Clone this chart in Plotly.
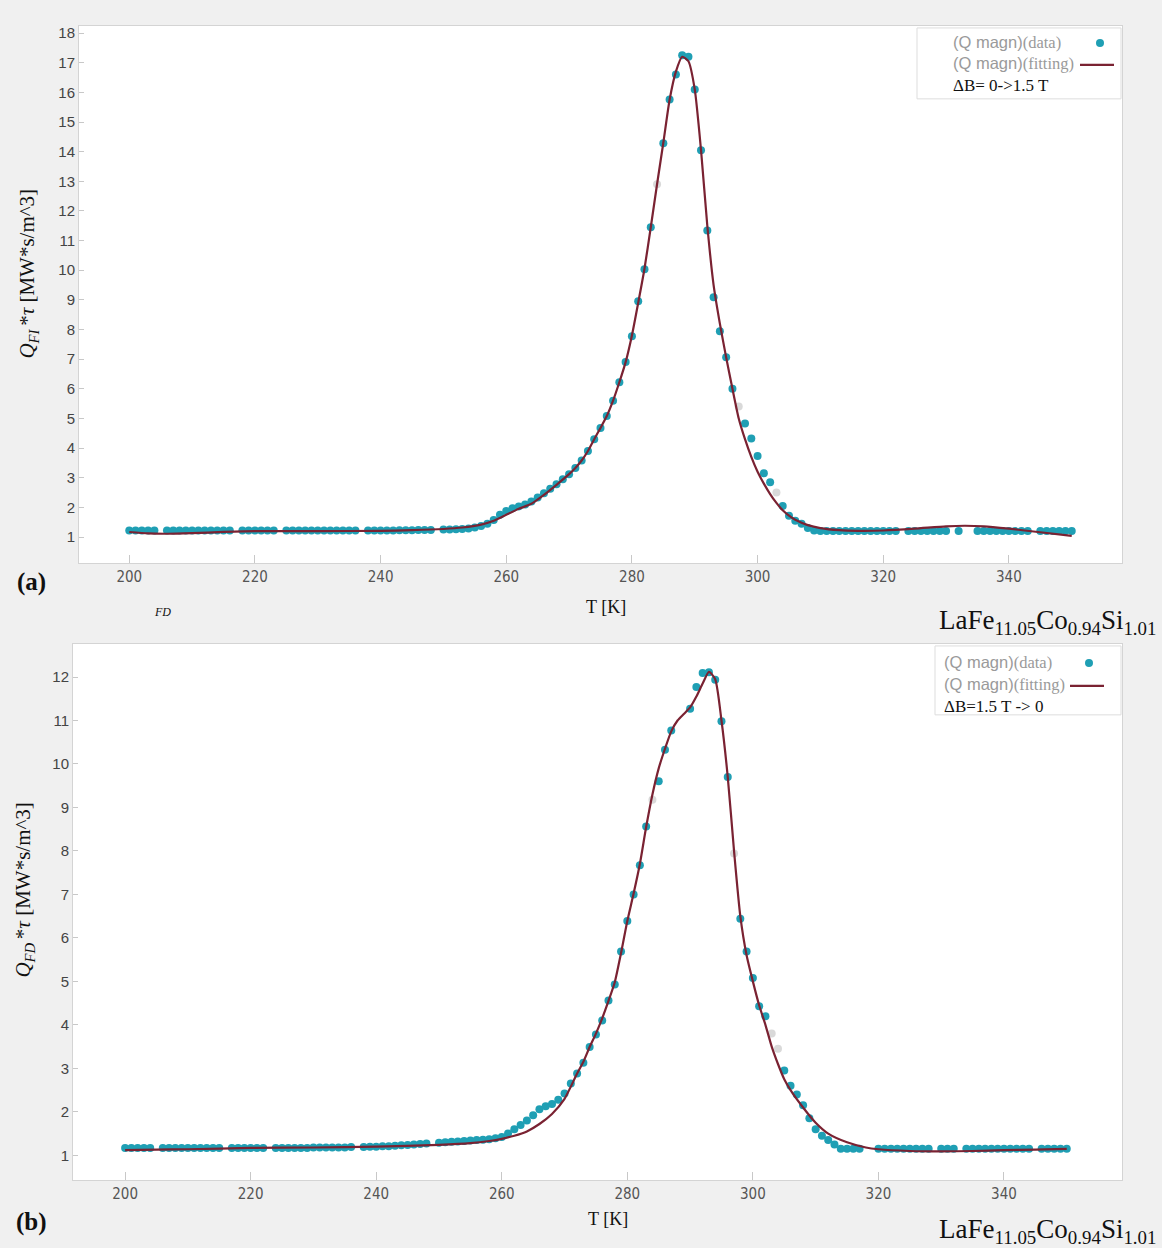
import plotly.graph_objects as go

W, H = 1162, 1248

# ---------------- panel (a): field increase 0 -> 1.5 T ----------------
t_a = [200, 201, 202, 203, 204, 206, 207, 208, 209, 210, 211, 212, 213, 214, 215, 216,
       218, 219, 220, 221, 222, 223, 225, 226, 227, 228, 229, 230, 231, 232, 233, 234,
       235, 236, 238, 239, 240, 241, 242, 243, 244, 245, 246, 247, 248, 250, 251, 252,
       253, 254, 255, 256, 257, 258, 259, 260, 261, 262, 263, 264, 265, 266, 267, 268,
       269, 270, 271, 272, 273, 274, 275, 276, 277, 278, 279, 280, 281, 282, 283, 285,
       286, 287, 288, 289, 290, 291, 292, 293, 294, 295, 296, 298, 299, 300, 301, 302,
       304, 305, 306, 307, 308, 309, 310, 311, 312, 313, 314, 315, 316, 317, 318, 319,
       320, 321, 322, 324, 325, 326, 327, 328, 329, 330, 332, 335, 336, 337, 338, 339,
       340, 341, 342, 343, 345, 346, 347, 348, 349, 350]
q_a = [1.22, 1.22, 1.22, 1.22, 1.22, 1.22, 1.22, 1.22, 1.22, 1.22, 1.22, 1.22, 1.22, 1.22, 1.22, 1.22,
       1.22, 1.22, 1.22, 1.22, 1.22, 1.22, 1.22, 1.22, 1.22, 1.22, 1.22, 1.22, 1.22, 1.22, 1.22, 1.22,
       1.22, 1.22, 1.22, 1.22, 1.22, 1.22, 1.22, 1.23, 1.23, 1.23, 1.24, 1.24, 1.24, 1.25, 1.25, 1.26,
       1.27, 1.29, 1.32, 1.37, 1.45, 1.57, 1.75, 1.88, 1.97, 2.03, 2.1, 2.2, 2.33, 2.48, 2.63, 2.78,
       2.95, 3.12, 3.33, 3.58, 3.9, 4.3, 4.68, 5.08, 5.6, 6.22, 6.9, 7.77, 8.95, 10.03, 11.45, 14.28,
       15.76, 16.6, 17.25, 17.2, 16.1, 14.05, 11.34, 9.09, 7.94, 7.06, 6.0, 4.83, 4.32, 3.73, 3.15, 2.85,
       2.05, 1.72, 1.55, 1.45, 1.3, 1.22, 1.2, 1.2, 1.2, 1.2, 1.2, 1.2, 1.2, 1.2, 1.2, 1.2,
       1.2, 1.2, 1.2, 1.2, 1.2, 1.2, 1.2, 1.2, 1.2, 1.2, 1.2, 1.2, 1.2, 1.2, 1.2, 1.2,
       1.2, 1.2, 1.2, 1.2, 1.2, 1.2, 1.2, 1.2, 1.2, 1.2]
faint_t_a = [284, 297, 303]
faint_q_a = [12.9, 5.4, 2.5]

fit_t_a = [200, 203, 206, 210, 215, 220, 230, 240, 245, 250, 253, 256, 258, 260, 262, 264,
           266, 268, 270, 271, 272, 273, 274, 275, 276, 277, 278, 279, 280, 281, 282, 283,
           284, 285, 286, 287, 288, 289, 290, 291, 292, 293, 294, 295, 296, 297, 298, 299,
           300, 301, 302, 303, 304, 305, 306, 308, 310, 313, 316, 320, 325, 330, 333, 336,
           340, 345, 350]
fit_q_a = [1.17, 1.12, 1.11, 1.13, 1.17, 1.2, 1.2, 1.21, 1.23, 1.27, 1.32, 1.42, 1.55, 1.75, 1.95, 2.12,
           2.42, 2.76, 3.12, 3.33, 3.58, 3.9, 4.3, 4.68, 5.08, 5.6, 6.22, 6.9, 7.8, 8.9, 10.05, 11.45,
           12.9, 14.3, 15.75, 16.7, 17.2, 17.05, 16.1, 14.05, 11.5, 9.5, 8.2, 7.06, 6.0, 5.0, 4.3, 3.7,
           3.2, 2.8, 2.45, 2.15, 1.9, 1.72, 1.58, 1.4, 1.3, 1.23, 1.21, 1.22, 1.28, 1.36, 1.38, 1.36,
           1.28, 1.16, 1.04]

# ---------------- panel (b): field decrease 1.5 T -> 0 ----------------
t_b = [200, 201, 202, 203, 204, 206, 207, 208, 209, 210, 211, 212, 213, 214, 215,
       217, 218, 219, 220, 221, 222, 224, 225, 226, 227, 228, 229, 230, 231, 232, 233, 234,
       235, 236, 238, 239, 240, 241, 242, 243, 244, 245, 246, 247, 248, 250, 251, 252,
       253, 254, 255, 256, 257, 258, 259, 260, 261, 262, 263, 264, 265, 266, 267, 268,
       269, 270, 271, 272, 273, 274, 275, 276, 277, 278, 279, 280, 281, 282, 283, 285,
       286, 287, 290, 291, 292, 293, 294, 295, 296, 298, 299, 300, 301, 302, 305, 306,
       307, 308, 309, 310, 311, 312, 313, 314, 315, 316, 317, 320, 321, 322, 323, 324,
       325, 326, 327, 328, 330, 331, 332, 334, 335, 336, 337, 338, 339, 340, 341, 342,
       343, 344, 346, 347, 348, 349, 350]
q_b = [1.17, 1.17, 1.17, 1.17, 1.17, 1.17, 1.17, 1.17, 1.17, 1.17, 1.17, 1.17, 1.17, 1.17, 1.17,
       1.17, 1.17, 1.17, 1.17, 1.17, 1.17, 1.17, 1.17, 1.17, 1.17, 1.17, 1.17, 1.18, 1.18, 1.18, 1.18, 1.18,
       1.18, 1.19, 1.19, 1.2, 1.2, 1.21, 1.21, 1.22, 1.23, 1.24, 1.25, 1.26, 1.27, 1.29, 1.3, 1.31,
       1.32, 1.33, 1.34, 1.35, 1.36, 1.37, 1.39, 1.42, 1.5, 1.6, 1.7, 1.8, 1.92, 2.06, 2.13, 2.18,
       2.28, 2.42, 2.65, 2.88, 3.13, 3.49, 3.78, 4.1, 4.56, 4.93, 5.69, 6.39, 7.0, 7.67, 8.56, 9.6,
       10.33, 10.77, 11.27, 11.77, 12.09, 12.11, 11.94, 10.98, 9.7, 6.44, 5.69, 5.08, 4.43, 4.2, 2.95, 2.6,
       2.4, 2.15, 1.85, 1.6, 1.45, 1.35, 1.25, 1.15, 1.15, 1.15, 1.15, 1.15, 1.15, 1.15, 1.15, 1.15,
       1.15, 1.15, 1.15, 1.15, 1.15, 1.15, 1.15, 1.15, 1.15, 1.15, 1.15, 1.15, 1.15, 1.15, 1.15, 1.15,
       1.15, 1.15, 1.15, 1.15, 1.15, 1.15, 1.15]
faint_t_b = [284, 297, 303, 304]
faint_q_b = [9.18, 7.94, 3.8, 3.45]

fit_t_b = [200, 205, 210, 220, 230, 240, 250, 255, 258, 260, 262, 264, 266, 268, 270, 271,
           272, 273, 274, 275, 276, 277, 278, 279, 280, 281, 282, 283, 284, 285, 286, 287,
           288, 289, 290, 291, 292, 293, 294, 295, 296, 297, 298, 299, 300, 301, 302, 303,
           304, 305, 306, 308, 310, 312, 315, 318, 320, 325, 330, 335, 340, 345, 350]
fit_q_b = [1.12, 1.13, 1.14, 1.17, 1.18, 1.2, 1.24, 1.28, 1.33, 1.38, 1.45, 1.55, 1.72, 1.95, 2.3, 2.58,
           2.88, 3.15, 3.49, 3.8, 4.15, 4.55, 4.98, 5.65, 6.39, 7.02, 7.7, 8.55, 9.3, 9.9, 10.35, 10.75,
           11.0, 11.15, 11.3, 11.55, 11.85, 12.12, 11.95, 11.0, 9.7, 8.0, 6.5, 5.6, 5.0, 4.45, 4.0, 3.5,
           3.1, 2.75, 2.5, 2.1, 1.75, 1.5, 1.3, 1.18, 1.14, 1.1, 1.09, 1.1, 1.12, 1.13, 1.15]

x_ticks = [200, 220, 240, 260, 280, 300, 320, 340]
y_ticks_a = list(range(1, 19))
y_ticks_b = list(range(1, 13))

TEAL = "#1f9fb4"
FAINT = "#d9d9d9"
MAROON = "#7a2232"
SERIF = "Liberation Serif, Times New Roman, serif"
SANS = "Liberation Sans, Arial, sans-serif"
NARROW = "Liberation Sans Narrow, DejaVu Sans Condensed, Arial Narrow, sans-serif"


def px(x):
    return x / W


def py(y):
    return 1 - y / H


fig = go.Figure()

for xa, ya, t, q, ft, fq, tt, qq in [
    ("x", "y", t_a, q_a, faint_t_a, faint_q_a, fit_t_a, fit_q_a),
    ("x2", "y2", t_b, q_b, faint_t_b, faint_q_b, fit_t_b, fit_q_b),
]:
    fig.add_trace(go.Scatter(x=ft, y=fq, mode="markers", xaxis=xa, yaxis=ya,
                             marker=dict(size=8, color=FAINT), showlegend=False,
                             hoverinfo="skip"))
    fig.add_trace(go.Scatter(x=t, y=q, mode="markers", xaxis=xa, yaxis=ya,
                             marker=dict(size=8, color=TEAL), name="(Q magn)(data)",
                             showlegend=False))
    fig.add_trace(go.Scatter(x=tt, y=qq, mode="lines", xaxis=xa, yaxis=ya,
                             line=dict(color=MAROON, width=2.2, shape="spline", smoothing=0.6),
                             name="(Q magn)(fitting)", showlegend=False))

axis_common = dict(showline=True, mirror=True, linecolor="#d4d4d4", linewidth=1,
                   showgrid=False, zeroline=False, ticks="inside", tickcolor="#c8c8c8")

# plot boxes in pixels: left, top, right, bottom
box_a = (79, 24, 1122, 562)
box_b = (73, 643, 1122, 1180)

fig.update_layout(
    width=W, height=H,
    margin=dict(l=0, r=0, t=0, b=0),
    paper_bgcolor="#f0f0f0", plot_bgcolor="#ffffff",
    xaxis=dict(domain=[px(box_a[0]), px(box_a[2])], range=[192.0, 358.0],
               tickvals=x_ticks, ticklen=8, anchor="y",
               tickfont=dict(family=NARROW, size=15, color="#555555"), **axis_common),
    yaxis=dict(domain=[py(box_a[3]), py(box_a[1])], range=[0.12, 18.24],
               tickvals=y_ticks_a, ticklen=5, anchor="x",
               tickfont=dict(family=SANS, size=15, color="#444444"), **axis_common),
    xaxis2=dict(domain=[px(box_b[0]), px(box_b[2])], range=[191.7, 358.8],
                tickvals=x_ticks, ticklen=8, anchor="y2",
                tickfont=dict(family=NARROW, size=15, color="#555555"), **axis_common),
    yaxis2=dict(domain=[py(box_b[3]), py(box_b[1])], range=[0.43, 12.76],
                tickvals=y_ticks_b, ticklen=5, anchor="x2",
                tickfont=dict(family=SANS, size=15, color="#444444"), **axis_common),
)

ann = []
shapes = []


def text(x, y, s, size, family=SERIF, color="#111111", xanchor="center", angle=0):
    ann.append(dict(x=px(x), y=py(y), xref="paper", yref="paper", text=s, showarrow=False,
                    xanchor=xanchor, yanchor="middle", textangle=angle,
                    font=dict(family=family, size=size, color=color)))


# axis titles
text(606, 606, "T [K]", 18)
text(608, 1219, "T [K]", 18)
text(27, 272, "<i>Q<sub>FI</sub></i><sup> </sup>*<i>τ</i> [MW*s/m^3]", 21, angle=-90)
text(23, 890, "<i>Q<sub>FD</sub></i><sup> </sup>*<i>τ</i> [MW*s/m^3]", 21, angle=-90)

# panel letters and composition
text(31, 581, "<b>(a)</b>", 25)
text(31, 1222, "<b>(b)</b>", 25)
text(162, 611, "<i>FD</i>", 12)
text(1158, 621, "LaFe<sub>11.05</sub>Co<sub>0.94</sub>Si<sub>1.01</sub>", 27, xanchor="right")
text(1158, 1231, "LaFe<sub>11.05</sub>Co<sub>0.94</sub>Si<sub>1.01</sub>", 27, xanchor="right")

# legend boxes drawn in paper space
for (bx0, by0, bx1, by1, tx, r1, r2, r3, mx, lx0, lx1, label) in [
    (917, 26, 1121, 97, 951, 41, 62, 84, 1100, 1080, 1114, "ΔB= 0-&gt;1.5 T"),
    (935, 645, 1121, 714, 942, 662, 684, 706, 1089, 1070, 1104, "ΔB=1.5 T -&gt; 0"),
]:
    shapes.append(dict(type="rect", xref="paper", yref="paper", x0=px(bx0), x1=px(bx1),
                       y0=py(by1), y1=py(by0), line=dict(color="#dddddd", width=1),
                       fillcolor="#ffffff"))
    shapes.append(dict(type="circle", xref="paper", yref="paper", x0=px(mx - 4), x1=px(mx + 4),
                       y0=py(r1 + 4), y1=py(r1 - 4), line=dict(width=0), fillcolor=TEAL))
    shapes.append(dict(type="line", xref="paper", yref="paper", x0=px(lx0), x1=px(lx1),
                       y0=py(r2 + 1), y1=py(r2 + 1), line=dict(color=MAROON, width=2.2)))
    for row, word in [(r1, "(data)"), (r2, "(fitting)")]:
        ann.append(dict(x=px(tx), y=py(row), xref="paper", yref="paper", showarrow=False,
                        xanchor="left", yanchor="middle",
                        text=f"<span style='font-family:Liberation Sans'>(Q magn)</span>{word}",
                        font=dict(family=SERIF, size=16.5, color="#9a9a9a")))
    text(tx, r3, label, 17, xanchor="left", color="#111111")

fig.update_layout(annotations=ann, shapes=shapes)
fig.write_html("out.html")
